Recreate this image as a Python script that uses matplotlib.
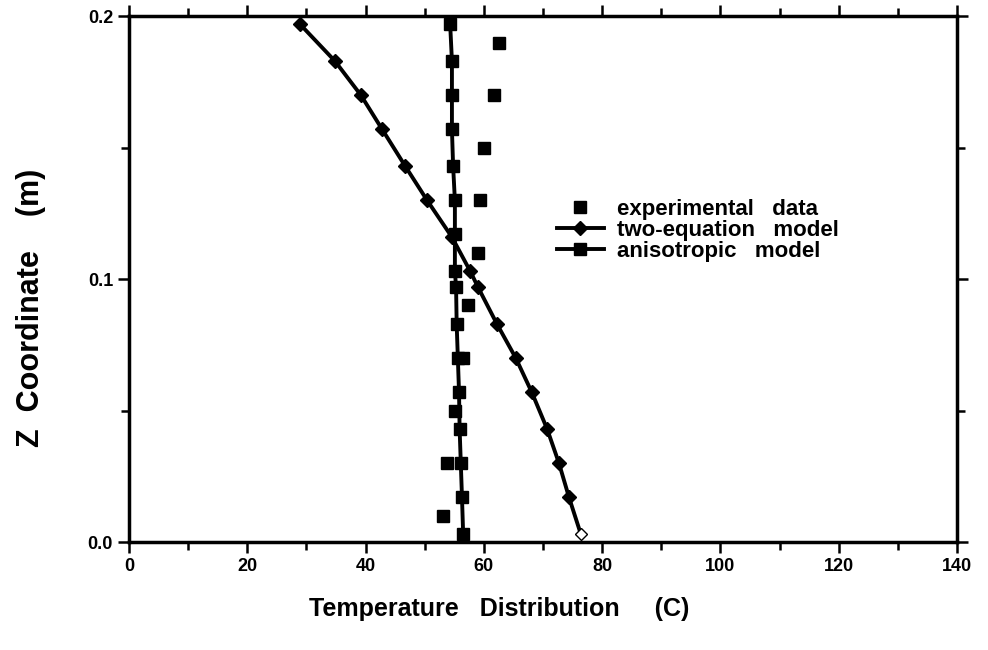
import matplotlib
matplotlib.use('Agg')
import matplotlib.pyplot as plt
from matplotlib.ticker import MultipleLocator

plt.rcParams['font.family'] = ['Liberation Sans', 'DejaVu Sans']
plt.rcParams['font.weight'] = 'bold'

# experimental data
exp_T = [62.6, 61.7, 60.0, 59.4, 59.0, 57.3, 56.5, 55.1, 53.8, 53.1]
exp_z = [0.190, 0.170, 0.150, 0.130, 0.110, 0.090, 0.070, 0.050, 0.030, 0.010]

# two-equation model
two_T = [28.9, 34.8, 39.2, 42.8, 46.7, 50.4, 54.6, 57.7, 59.0, 62.2, 65.4, 68.1, 70.7, 72.7, 74.4, 76.4]
two_z = [0.197, 0.183, 0.170, 0.157, 0.143, 0.130, 0.116, 0.103, 0.097, 0.083, 0.070, 0.057, 0.043, 0.030, 0.017, 0.003]

# anisotropic model
ani_T = [54.3, 54.6, 54.6, 54.6, 54.8, 55.1, 55.1, 55.1, 55.3, 55.4, 55.6, 55.8, 55.9, 56.1, 56.3, 56.5]
ani_z = [0.197, 0.183, 0.170, 0.157, 0.143, 0.130, 0.117, 0.103, 0.097, 0.083, 0.070, 0.057, 0.043, 0.030, 0.017, 0.003]

fig = plt.figure(figsize=(9.88, 6.5), dpi=100)
ax = fig.add_axes([0.1306, 0.166, 0.838, 0.809])

ax.plot(exp_T, exp_z, ls='none', marker='s', ms=9, color='black', label='experimental   data')
ax.plot(two_T[:-1], two_z[:-1], color='black', lw=2.8, marker='D', ms=7, label='two-equation   model')
ax.plot(two_T[-2:], two_z[-2:], color='black', lw=2.8)
ax.plot(two_T[-1:], two_z[-1:], ls='none', marker='D', ms=6, color='black', mfc='white')
ax.plot(ani_T, ani_z, color='black', lw=2.8, marker='s', ms=8, label='anisotropic   model')

ax.set_xlim(0, 140)
ax.set_ylim(0, 0.2)
ax.xaxis.set_major_locator(MultipleLocator(20))
ax.xaxis.set_minor_locator(MultipleLocator(10))
ax.yaxis.set_major_locator(MultipleLocator(0.1))
ax.yaxis.set_minor_locator(MultipleLocator(0.05))
ax.yaxis.set_major_formatter(plt.FormatStrFormatter('%.1f'))
ax.tick_params(which='both', direction='out', top=True, right=True, width=1.8, labelsize=13)
ax.tick_params(which='major', length=8)
ax.tick_params(which='minor', length=6)
for s in ax.spines.values():
    s.set_linewidth(2.5)

ax.set_xlabel('Temperature   Distribution     (C)', fontsize=18, fontweight='bold')
ax.xaxis.set_label_coords(0.447, -0.105)
ax.set_ylabel('Z  Coordinate    (m)', fontsize=22, fontweight='bold')
ax.yaxis.set_label_coords(-0.100, 0.445)

ax.legend(loc='upper left', bbox_to_anchor=(0.517, 0.652), frameon=False, fontsize=16,
          handlelength=2.1, handletextpad=0.6, labelspacing=0.0, borderpad=0, borderaxespad=0)

fig.savefig('out.png', dpi=100)
